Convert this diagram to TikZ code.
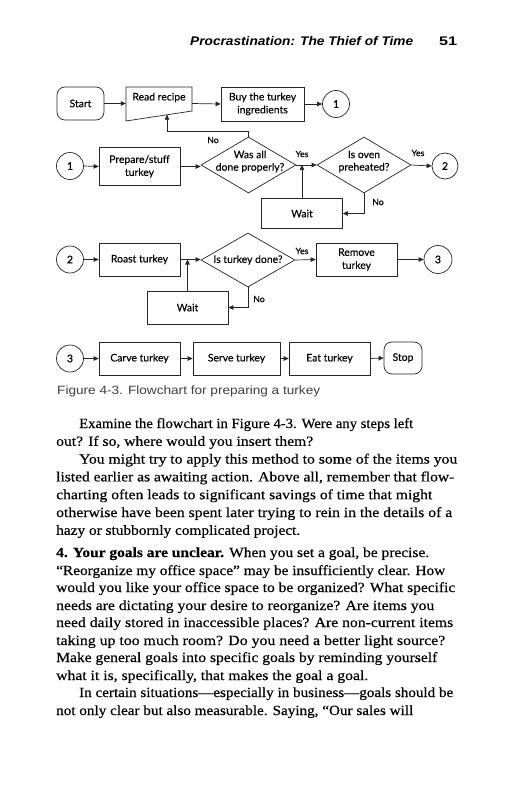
\documentclass[tikz,border=0pt]{standalone}
\usepackage{graphicx}
\usepackage{fontspec}
\setmainfont{Liberation Serif}[FakeBold=0.35]
\newfontfamily\flowfont{Lato}[FakeBold=0.25]
\newfontfamily\headfont{Liberation Sans}
\usetikzlibrary{arrows.meta,shapes.geometric}
\newcommand{\bodysz}{\fontsize{14}{17}\selectfont}
\newcommand{\tline}[4]{\node[anchor=base west,inner sep=0pt] (#1) at (#2) {\resizebox{#3pt}{\height}{\bodysz #4}};}
\tikzset{
  ln/.style={draw=black!85, line width=0.7pt},
  arr/.style={ln, -{Triangle[length=5pt,width=4.5pt]}},
  fbox/.style={ln, rectangle, minimum width=81pt, minimum height=33pt, inner sep=0pt, align=center,
     font=\flowfont\fontsize{10.4}{13}\selectfont},
  term/.style={fbox, rounded corners=8pt},
  conn/.style={ln, circle, minimum size=27pt, inner sep=0pt, font=\flowfont\fontsize{10.5}{12}\selectfont},
  dia/.style={ln, diamond, minimum width=95pt, minimum height=56pt, inner sep=0pt},
  dtext/.style={inner sep=0pt, align=center, font=\flowfont\fontsize{10.4}{12.5}\selectfont},
  lbl/.style={inner sep=0pt, font=\flowfont\fontsize{8.7}{10}\selectfont},
}
\begin{document}
\begin{tikzpicture}[x=1pt,y=-1pt]
\useasboundingbox[fill=white] (0,0) rectangle (516,800);

% header
\node[anchor=base west,inner sep=0pt] (hd) at (190,45.5) {\resizebox{223pt}{\height}{\headfont\bfseries\itshape\fontsize{12.5}{14}\selectfont Procrastination: The Thief of Time}};
\node[anchor=base west,inner sep=0pt] (pg) at (439,45.5) {\resizebox{18pt}{\height}{\headfont\bfseries\fontsize{12.5}{14}\selectfont 51}};

% ---------- row 1
\node[term, minimum width=47pt] (start) at (80.5,103.5) {Start};
\node[inner sep=0pt, minimum width=66pt, minimum height=34pt] (rr) at (159,103.5) {};
\node[dtext] (rrt) at (159,97.5) {Read recipe};
\draw[ln] (126,87) -- (192,87) -- (192,111) -- (126,121) -- cycle;
\coordinate (rrb) at (167,114.6);
\node[fbox, minimum width=83pt, minimum height=34pt] (buy) at (262.5,104) {Buy the turkey\\ingredients};
\node[conn] (c1a) at (336,104) {1};
\draw[arr] (start.east) -- (rr.west);
\draw[arr] (rr.east) -- (buy.west);
\draw[arr] (buy.east) -- (c1a.west);

% ---------- row 2
\node[conn] (c1b) at (70,166) {1};
\node[fbox, minimum height=38pt] (prep) at (139.5,166.5) {Prepare/stuff\\turkey};
\node[dia] (d1) at (248.5,165) {};
\node[dtext] (d1t) at (250,161.5) {Was all\\done properly?};
\node[dia, minimum width=94pt] (d2) at (364,165) {};
\node[dtext] (d2t) at (364,161.5) {Is oven\\preheated?};
\node[conn, minimum size=26pt] (c2a) at (445,166) {2};
\node[fbox, minimum height=30pt] (w1) at (302,213.5) {Wait};
\draw[arr] (c1b.east) -- (prep.west);
\draw[arr] (prep.east) -- (prep.east -| d1.west);
\draw[arr] (d1.east) -- (d2.west);
\draw[arr] (w1.north) -- (w1.north |- d1.east);
\draw[arr] (d2.east) -- (c2a.west);
\draw[arr] (d2.south) |- (w1.east);
\coordinate (fb) at (248.5,131);
\draw[arr] (d1.north) -- (fb) -| (rrb);
\node[lbl] (no1) at (213,140) {No};
\node[lbl] (yes1) at (302,154) {Yes};
\node[lbl] (yes2) at (418,153) {Yes};
\node[lbl] (no2) at (378,202) {No};

% ---------- row 3
\node[conn] (c2b) at (70,259.5) {2};
\node[fbox] (roast) at (139.5,259.5) {Roast turkey};
\node[dia, minimum width=94pt, minimum height=54pt] (d3) at (248,260) {};
\node[dtext] (d3t) at (248,260) {Is turkey done?};
\node[fbox] (rem) at (356.5,259.5) {Remove\\turkey};
\node[conn, minimum size=28pt] (c3a) at (438,259.5) {3};
\node[fbox] (w2) at (187.5,307.5) {Wait};
\draw[arr] (c2b.east) -- (roast.west);
\draw[arr] (roast.east) -- (roast.east -| d3.west);
\draw[arr] (w2.north) -- (w2.north |- roast.east);
\draw[arr] (d3.east) -- (rem.west);
\draw[arr] (rem.east) -- (c3a.west);
\draw[arr] (d3.south) |- (w2.east);
\node[lbl] (yes3) at (302,251) {Yes};
\node[lbl] (no3) at (259,299) {No};

% ---------- row 4
\node[conn] (c3b) at (70,358.5) {3};
\node[fbox] (carve) at (139.5,358.5) {Carve turkey};
\node[fbox, minimum width=87pt] (serve) at (236.5,358.5) {Serve turkey};
\node[fbox] (eat) at (329.5,358.5) {Eat turkey};
\node[term, minimum width=38pt, minimum height=32pt] (stop) at (403,358) {Stop};
\draw[arr] (c3b.east) -- (carve.west);
\draw[arr] (carve.east) -- (serve.west);
\draw[arr] (serve.east) -- (eat.west);
\draw[arr] (eat.east) -- (stop.west);

% caption
\node[anchor=base west,inner sep=0pt,text=black!75] (cap) at (57,394) {\resizebox{263pt}{\height}{\headfont\fontsize{12}{14}\selectfont Figure 4-3. Flowchart for preparing a turkey}};

% body text
\tline{l1}{79,428}{334}{Examine the flowchart in Figure 4-3. Were any steps left}
\tline{l2}{56,445.8}{257}{out? If so, where would you insert them?}
\tline{l3}{79,463.6}{378}{You might try to apply this method to some of the items you}
\tline{l4}{56,481.4}{398}{listed earlier as awaiting action. Above all, remember that flow-}
\tline{l5}{56,499.2}{376}{charting often leads to significant savings of time that might}
\tline{l6}{56,517}{396}{otherwise have been spent later trying to rein in the details of a}
\tline{l7}{56,534.8}{244}{hazy or stubbornly complicated project.}
\tline{l8}{56,557}{373}{\textbf{4. Your goals are unclear.} When you set a goal, be precise.}
\tline{l9}{56,575}{389}{“Reorganize my office space” may be insufficiently clear. How}
\tline{l10}{56,592}{399}{would you like your office space to be organized? What specific}
\tline{l11}{56,610}{378}{needs are dictating your desire to reorganize? Are items you}
\tline{l12}{56,627}{397}{need daily stored in inaccessible places? Are non-current items}
\tline{l13}{56,645}{389}{taking up too much room? Do you need a better light source?}
\tline{l14}{56,662}{381}{Make general goals into specific goals by reminding yourself}
\tline{l15}{56,680}{312}{what it is, specifically, that makes the goal a goal.}
\tline{l16}{79,697}{374}{In certain situations—especially in business—goals should be}
\tline{l17}{56,715}{357}{not only clear but also measurable. Saying, “Our sales will}
\end{tikzpicture}
\end{document}
